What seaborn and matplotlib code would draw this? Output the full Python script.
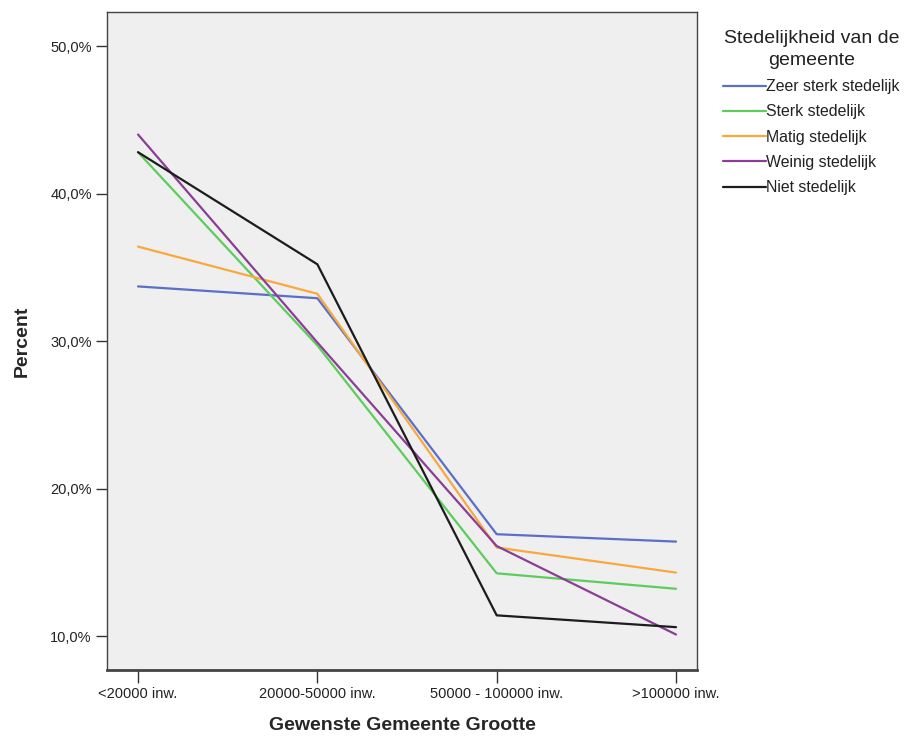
import matplotlib
matplotlib.use("Agg")
import matplotlib.pyplot as plt
import seaborn as sns
import pandas as pd
from matplotlib.ticker import FuncFormatter

categories = ["<20000 inw.", "20000-50000 inw.", "50000 - 100000 inw.", ">100000 inw."]
zeer_sterk = [33.7, 32.9, 16.9, 16.4]
sterk = [42.8, 29.7, 14.25, 13.2]
matig = [36.4, 33.2, 16.0, 14.3]
weinig = [44.0, 29.9, 16.1, 10.1]
niet = [42.8, 35.2, 11.4, 10.6]
series_names = ["Zeer sterk stedelijk", "Sterk stedelijk", "Matig stedelijk",
                "Weinig stedelijk", "Niet stedelijk"]
colors = ["#5b6fc8", "#5ccd5c", "#f9a93c", "#8a3e95", "#1c1c1c"]

rows = []
for name, vals in zip(series_names, [zeer_sterk, sterk, matig, weinig, niet]):
    for i, (c, v) in enumerate(zip(categories, vals)):
        rows.append({"pos": i, "cat": c, "Percent": v, "Stedelijkheid": name})
df = pd.DataFrame(rows)

sns.set_theme(style="white")
plt.rcParams["font.family"] = ["Liberation Sans", "DejaVu Sans"]

fig = plt.figure(figsize=(9.07, 7.38), dpi=100)
ax = fig.add_axes([107/907, 1-670/738, 590/907, 658/738])
ax.set_facecolor("#efefef")

sns.lineplot(data=df, x="pos", y="Percent", hue="Stedelijkheid",
             palette=dict(zip(series_names, colors)), hue_order=series_names,
             linewidth=1.6, ax=ax, legend=True)

ax.set_xlim(-0.173, 3.117)
ax.set_ylim(10 - 34/14.75, 10 + 624/14.75)
ax.set_xticks(range(len(categories)))
ax.set_xticklabels(categories, fontsize=10.5, color="#222222")
ax.set_yticks([10, 20, 30, 40, 50])
ax.yaxis.set_major_formatter(FuncFormatter(lambda v, p: f"{v:.1f}%".replace(".", ",")))
ax.tick_params(axis="y", labelsize=10.5, length=8, width=1, color="#333333", left=True, pad=3,
               labelcolor="#222222")
ax.tick_params(axis="x", labelsize=10.5, length=9, width=1, color="#333333", bottom=True, pad=3)
for s in ax.spines.values():
    s.set_color("#444444")
    s.set_linewidth(1.0)
ax.spines["bottom"].set_linewidth(2.0)

ax.set_xlabel("Gewenste Gemeente Grootte", fontsize=14, fontweight="bold", labelpad=12)
ax.set_ylabel("Percent", fontsize=14, fontweight="bold", labelpad=14)

handles, labels = ax.get_legend_handles_labels()
leg = ax.legend(handles, labels, title="Stedelijkheid van de\ngemeente",
                loc="upper left", bbox_to_anchor=(1.025, 0.99), frameon=False,
                fontsize=11.4, title_fontsize=14, handlelength=2.7,
                handletextpad=0.05, labelspacing=0.65, borderaxespad=0.3)
leg._legend_box.align = "center"
leg.get_title().set_multialignment("center")
leg.get_title().set_linespacing(1.4)
leg.get_title().set_color("#222222")
for t in leg.get_texts():
    t.set_color("#222222")

fig.savefig("out.png", dpi=100)
